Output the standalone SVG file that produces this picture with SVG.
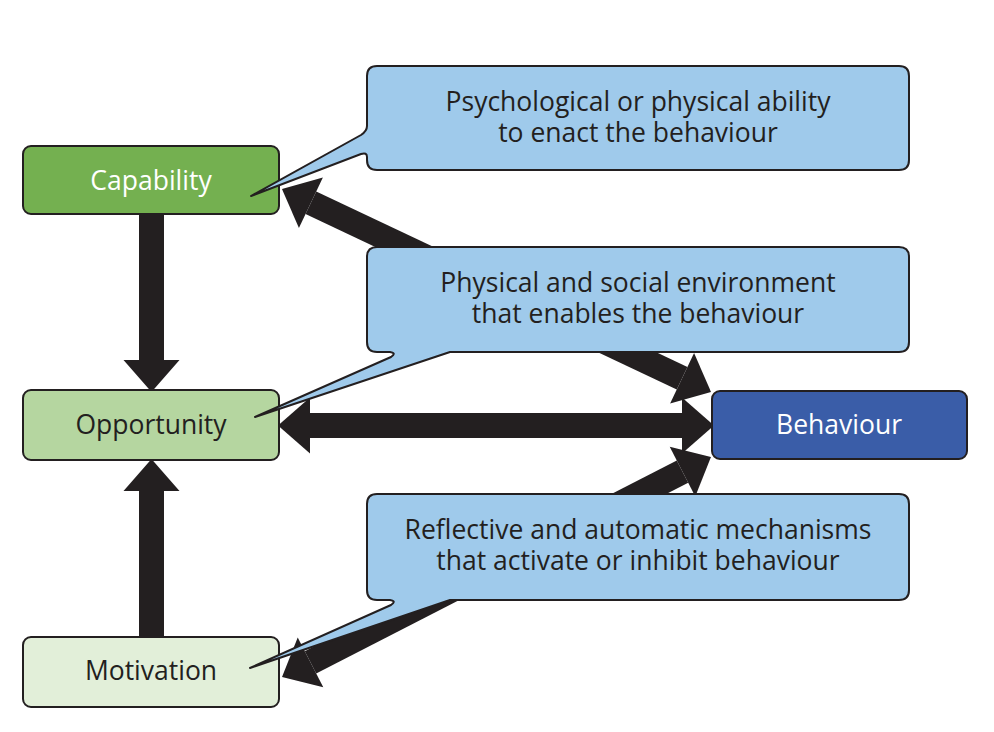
<svg xmlns="http://www.w3.org/2000/svg" width="994" height="732" viewBox="0 0 994 732">
<style>
.conn{stroke:#231f20;stroke-width:25;fill:none;stroke-linecap:butt}
.box{stroke:#231f20;stroke-width:2}
.call{fill:#9fcaeb;stroke:#231f20;stroke-width:2;stroke-linejoin:round}
text{font-family:"Open Sans","Noto Sans",sans-serif;font-size:26.5px;text-anchor:middle;fill:#231f20}
.w{fill:#ffffff}
</style>
<defs>
<marker id="ah" markerUnits="userSpaceOnUse" markerWidth="34" markerHeight="58" refX="0" refY="28" orient="auto-start-reverse" overflow="visible">
<path d="M0,0 L32,28 L0,56 Z" fill="#231f20"/>
</marker>
</defs>
<rect width="994" height="732" fill="#ffffff"/>
<g id="connectors">
<line class="conn" x1="151.5" y1="214" x2="151.5" y2="360" marker-end="url(#ah)"/>
<line class="conn" x1="151.5" y1="637" x2="151.5" y2="491" marker-end="url(#ah)"/>
<line class="conn" x1="310" y1="425.5" x2="682" y2="425.5" marker-start="url(#ah)" marker-end="url(#ah)"/>
<line class="conn" x1="310.9" y1="202.7" x2="682.1" y2="378.3" marker-start="url(#ah)" marker-end="url(#ah)"/>
<line class="conn" x1="310.5" y1="662.4" x2="682.5" y2="471.6" marker-start="url(#ah)" marker-end="url(#ah)"/>
</g>
<g id="capability">
<rect class="box" x="23" y="146" width="256" height="68" rx="8" fill="#74b050"/>
<text class="w" x="151" y="190">Capability</text>
</g>
<g id="opportunity">
<rect class="box" x="23" y="390" width="256" height="70" rx="8" fill="#b5d6a0"/>
<text x="151" y="434">Opportunity</text>
</g>
<g id="motivation">
<rect class="box" x="23" y="637" width="256" height="70" rx="8" fill="#e2efd9"/>
<text x="151" y="680">Motivation</text>
</g>
<g id="behaviour">
<rect class="box" x="712" y="391" width="255" height="68" rx="8" fill="#3a5da8"/>
<text class="w" x="839" y="434">Behaviour</text>
</g>
<g id="callout-capability">
<path class="call" d="M377,66 H899 Q909,66 909,76 V160 Q909,170 899,170 H377 Q367,170 367,160 V157 Q367,152 361,154 L251,196 L361,135 Q367,131 367,126 V76 Q367,66 377,66 Z"/>
<text x="638" y="111">Psychological or physical ability</text>
<text x="638" y="142">to enact the behaviour</text>
</g>
<g id="callout-opportunity">
<path class="call" d="M377,247 H899 Q909,247 909,257 V342 Q909,352 899,352 H450 L255,417 L391,357 Q397,353 390,352 H377 Q367,352 367,342 V257 Q367,247 377,247 Z"/>
<text x="638" y="292">Physical and social environment</text>
<text x="638" y="323">that enables the behaviour</text>
</g>
<g id="callout-motivation">
<path class="call" d="M377,494 H899 Q909,494 909,504 V590 Q909,600 899,600 H450 L250,668 L391,605 Q397,601 390,600 H377 Q367,600 367,590 V504 Q367,494 377,494 Z"/>
<text x="638" y="539">Reflective and automatic mechanisms</text>
<text x="638" y="570">that activate or inhibit behaviour</text>
</g>
</svg>
